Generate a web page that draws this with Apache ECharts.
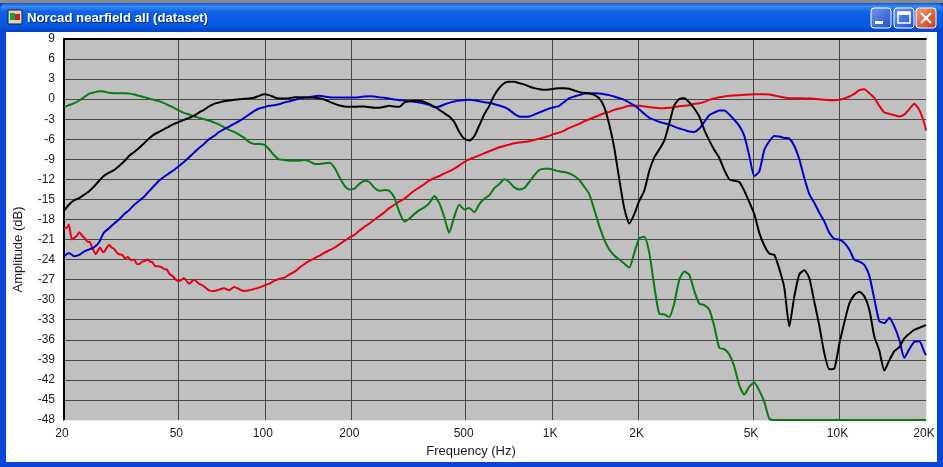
<!DOCTYPE html>
<html>
<head>
<meta charset="utf-8">
<style>html,body{margin:0;padding:0;background:#fff}#c{width:943px;height:467px}</style>
<script src="https://cdn.jsdelivr.net/npm/echarts@6/dist/echarts.min.js"></script>
</head>
<body>
<div id="c"></div>
<script>
const windowTitle = "Norcad nearfield all (dataset)";
const xName = "Frequency (Hz)";
const yName = "Amplitude (dB)";
const xTicks = [20,50,100,200,500,1000,2000,5000,10000,20000];
const xTickLabels = {20:"20",50:"50",100:"100",200:"200",500:"500",1000:"1K",2000:"2K",5000:"5K",10000:"10K",20000:"20K"};

const frequencies = [
20,20.8,21.7,22.6,23.5,24.4,25.4,26.5,27.5,28.7,
29.9,31.1,32.4,33.7,35.1,36.5,38.0,39.5,41.1,42.8,
44.6,46.4,48.3,50.3,52.3,54.5,56.7,59.0,61.4,63.9,
66.6,69.3,72.1,75.1,78.1,81.3,84.7,88.1,91.7,95.5,
99.4,103.5,107.7,112,117,122,127,132,137,143,
149,155,161,168,175,182,189,197,205,213,
222,231,241,250,261,271,282,294,306,318,
331,345,359,373,389,405,421,438,456,475,
494,515,536,558,580,604,629,655,681,709,
738,768,800,832,866,902,939,977,1017,1058,
1102,1147,1194,1243,1293,1346,1401,1459,1518,1580,
1645,1712,1782,1855,1931,2010,2092,2178,2267,2360,
2456,2556,2661,2770,2883,3001,3124,3251,3384,3523,
3667,3817,3973,4135,4304,4480,4663,4854,5052,5259,
5474,5698,5931,6173,6425,6688,6962,7246,7542,7851,
8172,8506,8854,9216,9593,9985,10393,10818,11260,11721,
12200,12699,13218,13758,14321,14906,15515,16150,16810,17497,
18212,18957,19732,20000];

const blackDb = [
-16.7,-15.8,-15.1,-14.8,-14.3,-13.8,-13.1,-12.2,-11.5,-11.0,
-10.6,-10.0,-9.3,-8.5,-7.9,-7.3,-6.6,-5.9,-5.3,-4.9,
-4.5,-4.1,-3.7,-3.4,-3.1,-2.8,-2.5,-2.0,-1.6,-1.1,
-0.7,-0.5,-0.3,-0.2,-0.1,0,0.05,0.1,0.2,0.5,
0.75,0.6,0.3,0.1,0.1,0.15,0.3,0.3,0.3,0.25,
0.2,0.15,-0.05,-0.4,-0.7,-0.95,-1.1,-1.15,-1.15,-1.1,
-1.1,-1.2,-1.3,-1.3,-1.15,-1.0,-1.1,-1.15,-0.5,-0.3,
-0.25,-0.25,-0.4,-0.7,-1.1,-1.6,-2.1,-2.6,-3.4,-4.9,
-5.9,-6.2,-5.5,-3.9,-2.3,-1.0,0.6,1.7,2.4,2.6,
2.6,2.4,2.2,1.9,1.65,1.5,1.4,1.45,1.55,1.65,
1.65,1.55,1.3,1.05,0.95,0.85,0.65,0.1,-1.2,-3.8,
-7.3,-12,-16.3,-18.6,-17.2,-15.2,-13.7,-10.7,-8.7,-7.5,
-6.2,-3.6,-0.9,0.05,0.15,-0.5,-1.4,-2.6,-4.6,-6.2,
-7.6,-8.8,-10.6,-12,-12.2,-12.4,-13.7,-15.4,-17.2,-20,
-21.9,-23.1,-23.3,-25.4,-28.2,-34,-29.5,-26.2,-25.6,-26.8,
-30.3,-33.9,-38,-40.4,-40.3,-36.6,-33.4,-30.6,-29.3,-28.8,
-29.5,-31.5,-35.5,-37.6,-40.6,-39.1,-37.7,-37.1,-35.8,-35.1,
-34.5,-34.2,-33.9,-33.8];

const blueDb = [
-23.5,-23.0,-23.5,-23.3,-22.8,-22.5,-22.2,-21.4,-20.0,-19.3,
-18.6,-18,-17.2,-16.6,-15.8,-15.2,-14.6,-13.8,-13.0,-12.2,
-11.6,-11.1,-10.6,-10,-9.4,-8.7,-8.0,-7.3,-6.7,-6.0,
-5.5,-4.9,-4.5,-4.1,-3.7,-3.3,-2.8,-2.3,-1.8,-1.4,
-1.2,-1.0,-0.9,-0.75,-0.5,-0.3,-0.1,0.1,0.2,0.3,
0.45,0.5,0.4,0.3,0.25,0.25,0.25,0.25,0.25,0.3,
0.4,0.45,0.4,0.3,0.2,0.1,-0.05,-0.15,-0.2,-0.3,
-0.4,-0.5,-0.65,-0.85,-1.2,-1.1,-0.8,-0.55,-0.35,-0.2,
-0.15,-0.1,-0.15,-0.3,-0.45,-0.55,-0.75,-0.95,-1.2,-1.6,
-2.2,-2.6,-2.65,-2.6,-2.3,-2,-1.7,-1.4,-1.2,-1,
-0.4,0.15,0.4,0.6,0.85,0.9,0.9,0.85,0.75,0.6,
0.4,0.15,-0.1,-0.5,-0.95,-1.5,-2.2,-2.8,-3.1,-3.4,
-3.6,-3.8,-4.1,-4.4,-4.6,-4.85,-4.9,-4.4,-3.4,-2.4,
-2.0,-1.7,-1.7,-2.3,-3.1,-4,-5.5,-8.5,-11.5,-10.8,
-7.6,-6.3,-5.5,-5.6,-5.8,-5.9,-7,-9,-11.8,-14.2,
-15.5,-17,-18.3,-20,-20.9,-21,-21.5,-22.5,-24,-24.3,
-24.8,-26.4,-29.9,-33.2,-33.5,-32.7,-34,-36,-38.7,-37.4,
-36.3,-36.2,-37.8,-38.3];

const greenDb = [
-1.2,-0.9,-0.6,-0.2,0.3,0.8,1.0,1.2,1.15,0.95,
0.9,0.9,0.9,0.85,0.7,0.5,0.3,0.1,-0.1,-0.3,
-0.6,-0.95,-1.3,-1.7,-2.05,-2.3,-2.55,-2.8,-3.0,-3.2,
-3.5,-3.8,-4.2,-4.6,-4.9,-5.3,-5.8,-6.4,-6.7,-6.7,
-6.8,-7.5,-8.4,-9.0,-9.1,-9.2,-9.2,-9.2,-9.1,-9.3,
-9.7,-9.7,-9.6,-9.5,-10.3,-11.7,-12.9,-13.5,-13.4,-12.7,
-12.2,-12.4,-13.3,-13.7,-13.6,-13.7,-14.7,-16.9,-18.3,-17.9,
-17.2,-16.6,-16.2,-15.6,-14.5,-15.6,-17.6,-20.0,-17.6,-15.8,
-16.5,-16.3,-16.9,-15.7,-14.9,-14.4,-13.3,-12.7,-12,-12.4,
-13.2,-13.5,-13.3,-12.4,-11.4,-10.6,-10.4,-10.4,-10.6,-10.8,
-10.9,-11.1,-11.5,-12.1,-13.1,-14.2,-16.5,-19,-21,-22.5,
-23.4,-24,-24.6,-25.2,-23,-20.8,-20.6,-23,-28,-32.1,
-32.2,-32.6,-30.5,-27,-25.8,-26.3,-28.7,-30.6,-30.8,-31.5,
-34,-37.2,-37.4,-38.2,-40,-42.8,-44.2,-43,-42.4,-43.6,
-45.3,-47.8,-48,-48,-48,-48,-48,-48,-48,-48,
-48,-48,-48,-48,-48,-48,-48,-48,-48,-48,
-48,-48,-48,-48,-48,-48,-48,-48,-48,-48,
-48,-48,-48,-48];

const redLowFrequencies = [
20,20.5,20.8,21.3,21.8,22.2,22.6,23.1,23.5,24.1,
24.6,25.0,25.4,25.8,26.3,26.7,27.1,27.5,28.2,28.7,
29.3,29.9,30.6,31.1,31.9,32.6,33.4,34.2,35.1,35.9,
36.8,37.4,38.3,39,39.9,40.6,41.6,42.5,43.5,44.6,
45.6,46.7,47.8,49,50.3];
const redLowDb = [
-19.3,-19.2,-18.8,-21,-20.7,-20.4,-19.9,-20.4,-20.7,-21.3,
-21.4,-22.1,-22.7,-23.2,-22.6,-22.2,-22.7,-22.9,-22.2,-21.8,
-22.2,-22.4,-23,-23.2,-23.3,-23.8,-23.6,-24.1,-24,-24.7,
-24.6,-24.3,-24.2,-24,-24.3,-24.4,-25,-25,-25.1,-25.4,
-25.5,-26.2,-26.5,-27,-27.2];
const redHighFrequencies = frequencies.slice(24);
const redHighDb = [
-26.8,-27.6,-27,-27.6,-28,-28.6,
-28.7,-28.5,-28.3,-28.6,-28.1,-28.4,-28.7,-28.6,-28.4,-28.2,
-27.9,-27.6,-27.2,-26.9,-26.7,-26.2,-25.8,-25.2,-24.7,-24.2,
-23.8,-23.4,-23,-22.6,-22.2,-21.7,-21.2,-20.7,-20.3,-19.7,
-19.1,-18.6,-18,-17.5,-16.9,-16.3,-15.8,-15.3,-14.9,-14.3,
-13.7,-13.2,-12.7,-12.2,-11.8,-11.5,-11.1,-10.8,-10.4,-9.9,
-9.4,-9.0,-8.7,-8.4,-8.1,-7.8,-7.5,-7.2,-7,-6.8,
-6.6,-6.5,-6.4,-6.3,-6.1,-5.9,-5.7,-5.5,-5.2,-5,
-4.7,-4.3,-4,-3.7,-3.3,-3,-2.7,-2.4,-2.1,-1.9,
-1.6,-1.4,-1.2,-1,-1,-1,-1.1,-1.2,-1.3,-1.35,
-1.35,-1.3,-1.2,-1.05,-1,-0.9,-0.7,-0.6,-0.4,-0.1,
0.1,0.3,0.4,0.5,0.55,0.6,0.65,0.7,0.75,0.75,
0.75,0.7,0.55,0.4,0.25,0.15,0.15,0.15,0.1,0.1,
0.05,0,-0.1,-0.15,-0.15,-0.1,0.1,0.4,0.8,1.35,
1.5,0.9,0.2,-1,-2,-2.2,-2.4,-2.6,-2.3,-1.5,
-0.7,-1.6,-3.6,-4.7];

const curves = [
  {name:"Red", color:"#e60012", f:redLowFrequencies.concat(redHighFrequencies), db:redLowDb.concat(redHighDb)},
  {name:"Green", color:"#0a7a14", f:frequencies, db:greenDb},
  {name:"Blue", color:"#0000cc", f:frequencies, db:blueDb},
  {name:"Black", color:"#000000", f:frequencies, db:blackDb}
];

const chart = echarts.init(document.getElementById('c'), null, {renderer:'canvas'});
const labelFont = {fontFamily:'"Liberation Sans", Arial, sans-serif', fontSize:12, color:'#1a1a1a'};
const titleGradient = new echarts.graphic.LinearGradient(0,0,0,1,[
  {offset:0,color:'#0a5ae0'},{offset:0.12,color:'#3b8cf5'},{offset:0.3,color:'#0f62e6'},
  {offset:0.8,color:'#0456e0'},{offset:1,color:'#0440c0'}]);
function btn(x, stops){
  return {type:'rect', z:-5, shape:{x:x,y:8,width:20,height:20,r:3},
    style:{fill:new echarts.graphic.LinearGradient(0,0,1,1,stops), stroke:'#ffffff', lineWidth:1}};
}
const blueStops=[{offset:0,color:'#6f97f0'},{offset:1,color:'#2050c8'}];
const redStops=[{offset:0,color:'#f0a080'},{offset:1,color:'#c83810'}];

chart.setOption({
  animation:false,
  backgroundColor:'#ffffff',
  graphic:{elements:[
    {type:'rect', z:-10, shape:{x:0,y:0,width:943,height:467}, style:{fill:'#0a46d8'}},
    {type:'rect', z:-9, shape:{x:0,y:0,width:943,height:3}, style:{fill:'#8a8a8a'}},
    {type:'rect', z:-9, shape:{x:0,y:3,width:943,height:29,r:[7,7,0,0]}, style:{fill:titleGradient}},
    {type:'rect', z:-8, shape:{x:6,y:32,width:931,height:430}, style:{fill:'#ffffff'}},
    {type:'rect', z:-7, shape:{x:8,y:10,width:14,height:14}, style:{fill:'#d8d4c8',stroke:'#202020',lineWidth:1}},
    {type:'rect', z:-6, shape:{x:10,y:13,width:5,height:7}, style:{fill:'#10a040'}},
    {type:'rect', z:-6, shape:{x:15,y:14,width:5,height:6}, style:{fill:'#d02020'}},
    {type:'text', z:-6, style:{x:28,y:13,text:windowTitle,fill:'#0a2a80',
      font:'bold 13.2px "Liberation Sans", Arial, sans-serif'}},
    {type:'text', z:-6, style:{x:27,y:12,text:windowTitle,fill:'#ffffff',
      font:'bold 13.2px "Liberation Sans", Arial, sans-serif'}},
    btn(871,blueStops), btn(894,blueStops), btn(916,redStops),
    {type:'rect', z:-4, shape:{x:875,y:21,width:8,height:3}, style:{fill:'#ffffff'}},
    {type:'rect', z:-4, shape:{x:898,y:12,width:12,height:11}, style:{fill:'none',stroke:'#ffffff',lineWidth:1.5}},
    {type:'rect', z:-4, shape:{x:898,y:12,width:12,height:3}, style:{fill:'#ffffff'}},
    {type:'polyline', z:-4, shape:{points:[[921,13],[931,23]]}, style:{fill:'none',stroke:'#ffffff',lineWidth:2}},
    {type:'polyline', z:-4, shape:{points:[[931,13],[921,23]]}, style:{fill:'none',stroke:'#ffffff',lineWidth:2}}
  ]},
  grid:{show:true, left:64, right:17, top:39, bottom:47, backgroundColor:'#c0c0c0', borderWidth:0, containLabel:false},
  xAxis:[{
    type:'log', logBase:10, min:20, max:20000, position:'bottom',
    name:xName, nameLocation:'middle', nameGap:25,
    nameTextStyle:Object.assign({},labelFont,{fontSize:13,padding:[0,48,0,0]}),
    axisLine:{show:true,onZero:false,lineStyle:{color:'#e8e8e8',width:1}},
    axisTick:{show:false,customValues:xTicks},
    minorTick:{show:false}, minorSplitLine:{show:false},
    splitLine:{show:true,lineStyle:{color:'#484848',width:1}},
    axisLabel:Object.assign({show:true,margin:8,padding:[0,4,0,0],customValues:xTicks,showMinLabel:true,showMaxLabel:true,
      hideOverlap:false,formatter:v=>xTickLabels[Math.round(v)]||''},labelFont)
  },{
    type:'value', position:'top', min:0, max:1,
    axisLine:{show:true,onZero:false,lineStyle:{color:'#000000',width:2}},
    axisTick:{show:false}, axisLabel:{show:false}, splitLine:{show:false}
  }],
  yAxis:[{
    type:'value', min:-48, max:9, interval:3,
    name:yName, nameLocation:'middle', nameGap:39, nameRotate:90,
    nameTextStyle:Object.assign({},labelFont,{fontSize:13,padding:[0,40,0,0]}),
    axisLine:{show:true,onZero:false,lineStyle:{color:'#000000',width:2}},
    axisTick:{show:false},
    splitLine:{show:true,lineStyle:{color:'#484848',width:1}},
    axisLabel:Object.assign({margin:9,showMinLabel:true,showMaxLabel:true},labelFont)
  },{
    type:'value', position:'right', min:0, max:1,
    axisLine:{show:true,onZero:false,lineStyle:{color:'#e8e8e8',width:1}},
    axisTick:{show:false}, axisLabel:{show:false}, splitLine:{show:false}
  }],
  series:curves.map(c=>({
    type:'line', name:c.name, xAxisIndex:0, yAxisIndex:0,
    showSymbol:false, symbol:'none', smooth:0.2, clip:true,
    lineStyle:{color:c.color,width:2},
    data:c.f.map((f,i)=>[f,c.db[i]])
  }))
});
</script>
</body>
</html>
